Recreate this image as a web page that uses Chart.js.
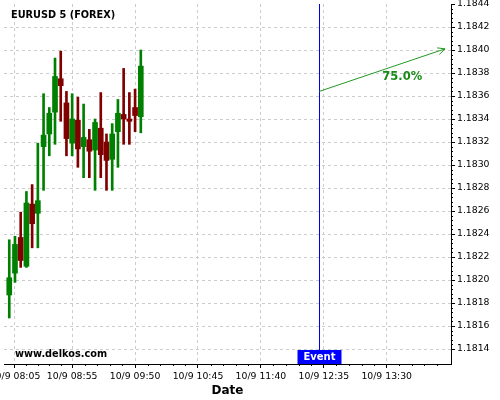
<!DOCTYPE html>
<html>
<head>
<meta charset="utf-8">
<script src="https://cdn.jsdelivr.net/npm/chart.js@4"></script>
<style>
  html, body { margin: 0; padding: 0; background: #fff; }
</style>
</head>
<body>
<canvas id="chart" width="500" height="400"></canvas>
<script>
// 5 minute candles, 10/9
const times = ['08:00', '08:05', '08:10', '08:15', '08:20', '08:25', '08:30', '08:35',
  '08:40', '08:45', '08:50', '08:55', '09:00', '09:05', '09:10', '09:15',
  '09:20', '09:25', '09:30', '09:35', '09:40', '09:45', '09:50', '09:55'];
const opens = [1.18187, 1.18206, 1.18237, 1.18212, 1.18266, 1.18258, 1.18316, 1.18327,
  1.18346, 1.18375, 1.18354, 1.18319, 1.18339, 1.18316, 1.18322, 1.18313,
  1.18332, 1.18320, 1.18305, 1.18329, 1.18344, 1.18340, 1.18350, 1.18342];
const highs = [1.18235, 1.18238, 1.18259, 1.18277, 1.18283, 1.18319, 1.18362, 1.18350,
  1.18393, 1.18399, 1.18364, 1.18362, 1.18359, 1.18353, 1.18331, 1.18340,
  1.18363, 1.18327, 1.18336, 1.18357, 1.18384, 1.18363, 1.18366, 1.18400];
const lows = [1.18167, 1.18198, 1.18211, 1.18211, 1.18228, 1.18228, 1.18278, 1.18308,
  1.18318, 1.18338, 1.18308, 1.18308, 1.18298, 1.18289, 1.18289, 1.18278,
  1.18289, 1.18278, 1.18278, 1.18298, 1.18318, 1.18318, 1.18329, 1.18328];
const closes = [1.18202, 1.18231, 1.18217, 1.18267, 1.18249, 1.18269, 1.18326, 1.18345,
  1.18377, 1.18369, 1.18323, 1.18340, 1.18314, 1.18324, 1.18312, 1.18337,
  1.18309, 1.18304, 1.18327, 1.18345, 1.18340, 1.18338, 1.18343, 1.18386];

const xTickTimes = ['08:05', '08:55', '09:50', '10:45', '11:40', '12:35', '13:30'];
const yTicks = [1.1814, 1.1816, 1.1818, 1.1820, 1.1822, 1.1824, 1.1826, 1.1828,
  1.1830, 1.1832, 1.1834, 1.1836, 1.1838, 1.1840, 1.1842, 1.1844];

// event + forecast arrow
const eventTime = '12:31';
const arrowTimes = ['12:31', '14:21'];
const arrowPrices = [1.18364, 1.18401];
const forecastText = '75.0%';

const FONT = "'DejaVu Sans', sans-serif";
const UP = '#008000';
const DOWN = '#800000';

// minutes since 08:00
function toMin(t) {
  const [h, m] = t.split(':').map(Number);
  return h * 60 + m - 480;
}

const wicks = times.map((t, i) => ({ x: toMin(t), y: [lows[i], highs[i]] }));
const bodies = times.map((t, i) => ({ x: toMin(t), y: [opens[i], closes[i]] }));
const candleColors = times.map((t, i) => closes[i] >= opens[i] ? UP : DOWN);

// --- extra drawing: title, watermark, event, arrow, minor ticks ---
const overlay = {
  id: 'overlay',
  afterDraw(chart) {
    const { ctx, chartArea: area, scales: { x, y } } = chart;
    ctx.save();

    // minor ticks on y axis
    ctx.strokeStyle = '#000';
    ctx.lineWidth = 1;
    for (let i = 0; i < yTicks.length - 1; i++) {
      for (let k = 1; k < 5; k++) {
        const py = Math.round(y.getPixelForValue(yTicks[i] + k * 0.00004)) + 0.5;
        ctx.beginPath();
        ctx.moveTo(area.right, py);
        ctx.lineTo(area.right + 2, py);
        ctx.stroke();
      }
    }
    // minor ticks on x axis
    for (let i = 0; i < xTickTimes.length; i++) {
      const a = toMin(xTickTimes[i]);
      const b = i < xTickTimes.length - 1 ? toMin(xTickTimes[i + 1]) : a + 55;
      for (let k = 1; k < 5; k++) {
        const px = Math.round(x.getPixelForValue(a + (b - a) * k / 5)) + 0.5;
        if (px > area.right) continue;
        ctx.beginPath();
        ctx.moveTo(px, area.bottom);
        ctx.lineTo(px, area.bottom + 2);
        ctx.stroke();
      }
    }

    // event line
    const ex = Math.round(x.getPixelForValue(toMin(eventTime))) + 0.5;
    ctx.strokeStyle = '#0000ee';
    ctx.beginPath();
    ctx.moveTo(ex, area.top);
    ctx.lineTo(ex, area.bottom);
    ctx.stroke();

    // event label
    ctx.fillStyle = '#0000ff';
    ctx.fillRect(ex - 22, area.bottom - 14, 44, 14);
    ctx.fillStyle = '#fff';
    ctx.font = 'bold 10px ' + FONT;
    ctx.textAlign = 'center';
    ctx.textBaseline = 'middle';
    ctx.fillText('Event', ex, area.bottom - 6.5);

    // forecast arrow
    const x1 = x.getPixelForValue(toMin(arrowTimes[0]));
    const y1 = y.getPixelForValue(arrowPrices[0]);
    const x2 = x.getPixelForValue(toMin(arrowTimes[1]));
    const y2 = y.getPixelForValue(arrowPrices[1]);
    ctx.strokeStyle = '#229922';
    ctx.lineWidth = 1;
    ctx.beginPath();
    ctx.moveTo(x1, y1);
    ctx.lineTo(x2, y2);
    const ang = Math.atan2(y2 - y1, x2 - x1);
    ctx.moveTo(x2 - 8 * Math.cos(ang - 0.45), y2 - 8 * Math.sin(ang - 0.45));
    ctx.lineTo(x2, y2);
    ctx.lineTo(x2 - 8 * Math.cos(ang + 0.45), y2 - 8 * Math.sin(ang + 0.45));
    ctx.stroke();

    ctx.fillStyle = '#178a17';
    ctx.font = 'bold 11.5px ' + FONT;
    const tx = x1 + (x2 - x1) * 0.66;
    const ty = y1 + (y2 - y1) * 0.66 + 13.6;
    ctx.fillText(forecastText, tx, ty);

    // title + watermark
    ctx.fillStyle = '#000';
    ctx.textAlign = 'left';
    ctx.font = 'bold 9.75px ' + FONT;
    ctx.fillText('EURUSD 5 (FOREX)', 11, 15.5);
    ctx.fillText('www.delkos.com', 15, 354);

    ctx.restore();
  }
};

new Chart(document.getElementById('chart'), {
  type: 'bar',
  data: {
    datasets: [
      {
        label: 'wick',
        data: wicks,
        backgroundColor: candleColors,
        barThickness: 2,
        grouped: false,
        borderWidth: 0
      },
      {
        label: 'body',
        data: bodies,
        backgroundColor: candleColors,
        barThickness: 5,
        grouped: false,
        borderWidth: 0
      }
    ]
  },
  options: {
    responsive: false,
    animation: false,
    layout: { padding: { left: 4, top: 4, right: 0, bottom: 0 } },
    plugins: {
      legend: { display: false },
      tooltip: { enabled: false }
    },
    scales: {
      x: {
        type: 'linear',
        offset: false,
        min: -4.6,
        max: 386.2,
        afterBuildTicks: (scale) => {
          scale.ticks = xTickTimes.map(t => ({ value: toMin(t) }));
        },
        afterFit: (scale) => {
          scale.height = 36;
          scale.paddingLeft = 0;
          scale.paddingRight = 0;
        },
        ticks: {
          autoSkip: false,
          maxRotation: 0,
          padding: 3,
          color: '#000',
          font: { family: FONT, size: 9.3 },
          callback: (v) => {
            const m = v + 480;
            const hh = String(Math.floor(m / 60)).padStart(2, '0');
            const mm = String(m % 60).padStart(2, '0');
            return '10/9 ' + hh + ':' + mm;
          }
        },
        grid: { offset: false, color: '#cccccc', tickColor: '#000', tickLength: 4 },
        border: { display: true, color: '#000', width: 1, dash: [3, 3] },
        title: {
          display: true,
          text: 'Date',
          color: '#000',
          font: { family: FONT, size: 12, weight: 'bold' },
          padding: { top: 0, bottom: 2 }
        }
      },
      y: {
        position: 'right',
        min: 1.18127,
        max: 1.1844,
        afterBuildTicks: (scale) => {
          scale.ticks = yTicks.map(v => ({ value: v }));
        },
        afterFit: (scale) => {
          scale.width = 49;
          scale.paddingTop = 0;
          scale.paddingBottom = 0;
        },
        ticks: {
          padding: 2,
          color: '#000',
          font: { family: FONT, size: 9.3 },
          callback: (v) => v.toFixed(4)
        },
        grid: {
          color: (c) => (c.tick && c.tick.value >= 1.1844) ? 'rgba(0,0,0,0)' : '#cccccc',
          tickColor: '#000',
          tickLength: 4
        },
        border: { display: true, color: '#000', width: 1, dash: [3, 3] }
      }
    }
  },
  plugins: [overlay]
});
</script>
</body>
</html>
